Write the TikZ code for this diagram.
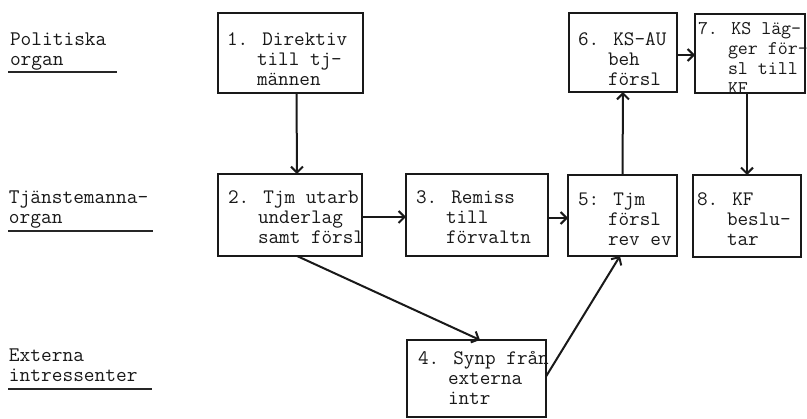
\documentclass[tikz,border=0pt]{standalone}
\usepackage{fontspec}
\usetikzlibrary{arrows.meta,calc}
\tikzset{
  box/.style={draw=black!90, line width=2.3pt, inner sep=0pt, outer sep=0pt},
  txt/.style={anchor=north west, inner sep=0pt, outer sep=0pt, align=left,
    text=black!90, font=\ttfamily\fontsize{20.6}{20}\selectfont, execute at begin node=\strut},
  narrowtxt/.style={txt, font=\ttfamily\fontsize{19.4}{20}\selectfont},
  labeltxt/.style={txt, font=\ttfamily\addfontfeatures{LetterSpace=4}\fontsize{20.8}{20}\selectfont},
  arr/.style={line width=2pt, draw=black!90, -{Straight Barb[length=6pt,width=12pt]}},
  uline/.style={line width=1.6pt, draw=black!85}
}
\newcommand\ind{\hspace*{30pt}}
\begin{document}
\begin{tikzpicture}[x=1pt,y=-1pt]
\useasboundingbox[fill=white] (0,0) rectangle (807,419);
% boxes
\node[box, minimum width=145pt, minimum height=80pt] (b1) at (290.5,53) {};
\node[box, minimum width=144pt, minimum height=82pt] (b2) at (290,215) {};
\node[box, minimum width=142pt, minimum height=82pt] (b3) at (477,215) {};
\node[box, minimum width=109pt, minimum height=81pt] (b5) at (622.5,215.5) {};
\node[box, minimum width=108pt, minimum height=82pt] (b8) at (747,216) {};
\node[box, minimum width=108pt, minimum height=79pt] (b6) at (623,52.5) {};
\node[box, minimum width=110pt, minimum height=79pt] (b7) at (750,53.5) {};
\node[box, minimum width=139pt, minimum height=77pt] (b4) at (476.5,378.5) {};
% texts
\node[txt] (t1) at (227,33) {1. Direktiv\\\ind till tj-\\\ind männen};
\node[txt] (t2) at (228,191) {2. Tjm utarb\\\ind underlag\\\ind samt försl};
\node[txt] (t3) at (416,191) {3. Remiss\\\ind till\\\ind förvaltn};
\node[txt] (t5) at (578,193) {5: Tjm\\\ind försl\\\ind rev ev};
\node[txt] (t8) at (697,193) {8. KF\\\ind beslu-\\\ind tar};
\node[txt] (t6) at (578,33) {6. KS-AU\\\ind beh\\\ind försl};
\node[narrowtxt] (t7) at (698,22) {7. KS läg-\\\ind ger för-\\\ind sl till\\\ind KF};
\node[txt] (t4) at (418,351) {4. Synp från\\\ind externa\\\ind intr};
% side labels
\node[labeltxt] (l1) at (10,33) {Politiska\\organ};
\node[labeltxt] (l2) at (9,191) {Tjänstemanna-\\organ};
\node[labeltxt] (l3) at (9,349) {Externa\\intressenter};
\draw[uline] (8,72) -- (117,72);
\draw[uline] (8,231) -- (153,231);
\draw[uline] (8,389) -- (152,389);
% connectors
\draw[arr] ($(b1.south)+(6,0)$) -- ($(b2.north)+(7,0)$);
\draw[arr] ($(b2.east)+(0,2)$) -- ($(b3.west)+(0,2)$);
\draw[arr] ($(b3.east)+(0,3)$) -- ($(b5.west)+(0,2.5)$);
\draw[arr] (b5.north) -- (b6.south);
\draw[arr] ($(b6.east)+(0,2.5)$) -- ($(b7.west)+(0,1.5)$);
\draw[arr] ($(b7.south)+(-3,0)$) -- (b8.north);
\draw[arr] ($(b2.south)+(7,0)$) -- ($(b4.north)+(3.5,0)$);
\draw[arr] ($(b4.east)+(0,-2)$) -- ($(b5.south)+(-2.5,0)$);
\end{tikzpicture}
\end{document}
